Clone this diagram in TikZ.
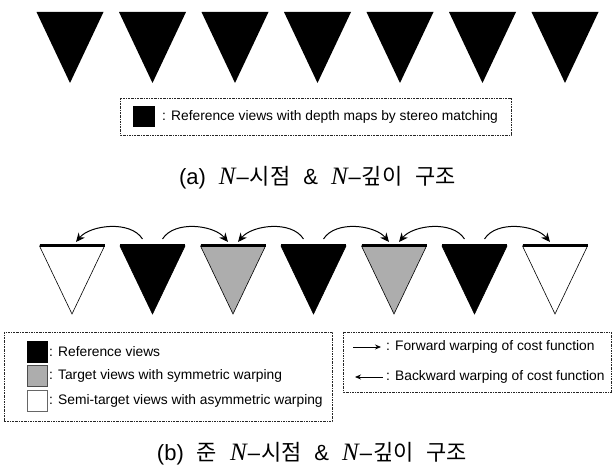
\documentclass[tikz,border=0pt]{standalone}
\usepackage{fontspec}
\setmainfont{Liberation Sans}
\newfontfamily\krfont{Noto Sans CJK KR}
\newfontfamily\tmsfont{Liberation Serif}
\usetikzlibrary{arrows.meta}
\definecolor{grayfill}{gray}{0.68}
\newcommand{\capN}{{\tmsfont\itshape\fontsize{25}{26}\selectfont N}\hspace{1pt}–\hspace{1pt}}
\newcommand{\capgap}{\hspace{13pt}}
\begin{document}
\begin{tikzpicture}[x=1pt,y=-1pt,
  legbox/.style={draw=black!85, line width=0.6pt, dash pattern=on 2pt off 1pt on 0.6pt off 1pt},
  legtxt/.style={anchor=west, inner sep=0pt, font=\fontsize{13.8}{16}\selectfont},
  captxt/.style={inner sep=0pt, font=\fontsize{22}{26}\selectfont},
  warp/.style={-{Stealth[length=9pt,width=8pt]}, line width=1pt},
  smallarr/.style={line width=0.8pt},
  tri/.style={line width=0.6pt, draw=black},
]
\useasboundingbox (0,0) rectangle (614,470);
% ---- (a) top row ----
\foreach \i in {0,...,6} {
  \pgfmathsetmacro\cx{70+82.5*\i}
  \fill (\cx-33.5,12) -- (\cx+33.5,12) -- (\cx,83) -- cycle;
}
\draw[legbox] (120,98) rectangle (511,135);
\fill (133,106) rectangle (155,127);
\node[legtxt] (la) at (162,117) {: Reference views with depth maps by stereo matching};
\node[captxt] (capa) at (317.5,178) {(a)\capgap\capN{\krfont 시점}\capgap\&\capgap\capN{\krfont 깊이}\hspace{13pt}{\krfont 구조}};
% ---- (b) bottom row ----
\foreach \i/\k in {0/white,1/black,2/grayfill,3/black,4/grayfill,5/black,6/white} {
  \pgfmathsetmacro\cx{72+80.5*\i}
  \filldraw[tri, fill=\k] (\cx-32.5,246) -- (\cx+32.5,246) -- (\cx,314) -- cycle;
  \draw[line width=3pt] (\cx-32.5,246) -- (\cx+32.5,246);
}
% arrow end points
\coordinate (s1l) at (142.5,239); \coordinate (s1r) at (162.5,239);
\coordinate (s3l) at (303.5,239); \coordinate (s3r) at (323.5,239);
\coordinate (s5l) at (464.5,239); \coordinate (s5r) at (484.5,239);
\coordinate (e0) at (76,242);  \coordinate (e2l) at (228,242);
\coordinate (e2r) at (238,242); \coordinate (e4l) at (389,242);
\coordinate (e4r) at (399,242); \coordinate (e6) at (550,242);
\draw[warp] (s1l) .. controls +(-12,-19) and +(14,-17) .. (e0);
\draw[warp] (s1r) .. controls +(12,-19) and +(-14,-17) .. (e2l);
\draw[warp] (s3l) .. controls +(-12,-19) and +(14,-17) .. (e2r);
\draw[warp] (s3r) .. controls +(12,-19) and +(-14,-17) .. (e4l);
\draw[warp] (s5l) .. controls +(-12,-19) and +(14,-17) .. (e4r);
\draw[warp] (s5r) .. controls +(12,-19) and +(-14,-17) .. (e6);
% legends
\draw[legbox] (4,332) rectangle (332,421);
\filldraw[fill=black, draw=black] (27,341) rectangle (47,362);
\filldraw[fill=grayfill, draw=black!70] (27,365) rectangle (47,386);
\filldraw[fill=white, draw=black!60] (27,390) rectangle (47,411);
\node[legtxt] (l1) at (49,351.5) {: Reference views};
\node[legtxt] (l2) at (49,375.5) {: Target views with symmetric warping};
\node[legtxt] (l3) at (49,400.5) {: Semi-target views with asymmetric warping};
\draw[legbox] (343,332) rectangle (611,392);
\coordinate (f1) at (353,347); \coordinate (f2) at (381,347);
\coordinate (g1) at (355,377); \coordinate (g2) at (383,377);
\draw[smallarr, -{Stealth[length=6pt,width=5pt]}] (f1) -- (f2);
\draw[smallarr, {Stealth[length=6pt,width=5pt]}-] (g1) -- (g2);
\node[legtxt] (l4) at (386,347) {: Forward warping of cost function};
\node[legtxt] (l5) at (386,377) {: Backward warping of cost function};
\node[captxt] (capb) at (312,454) {(b)\capgap{\krfont 준}\capgap\capN{\krfont 시점}\capgap\&\capgap\capN{\krfont 깊이}\hspace{13pt}{\krfont 구조}};
\end{tikzpicture}
\end{document}
